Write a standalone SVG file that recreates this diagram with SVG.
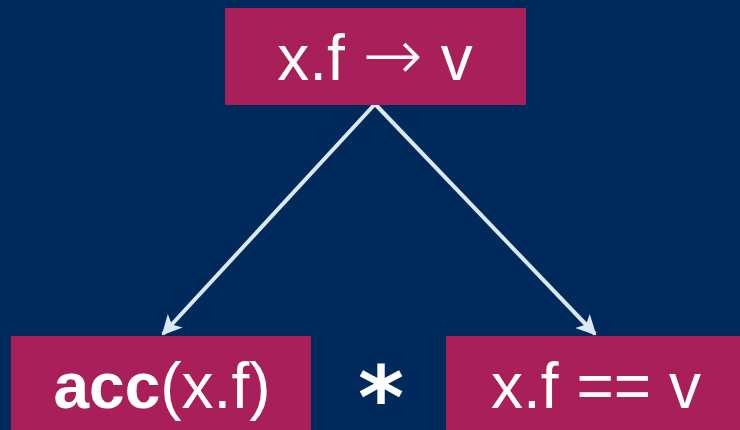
<svg xmlns="http://www.w3.org/2000/svg" width="740" height="430" viewBox="0 0 740 430">
<style>
.box{fill:#a81f59}
.t{font-family:"Liberation Sans",Arial,sans-serif;font-size:64px;fill:#ffffff;text-anchor:middle}
.e{stroke:#dbe8f5;stroke-width:4;fill:none}
</style>
<defs>
<marker id="ah" viewBox="0 0 10 10" refX="9" refY="5" markerWidth="5" markerHeight="5" markerUnits="strokeWidth" orient="auto">
<path d="M0,0 L10,5 L0,10 L2.5,5 z" fill="#dbe8f5"/>
</marker>
</defs>
<rect width="740" height="430" fill="#012a5c"/>
<g id="connectors">
<line class="e" x1="375" y1="104" x2="163" y2="334" marker-end="url(#ah)"/>
<line class="e" x1="375" y1="104" x2="595" y2="334" marker-end="url(#ah)"/>
</g>
<g id="top">
<rect class="box" x="225" y="8" width="301" height="97"/>
<text class="t" x="375" y="80">x.f <tspan font-family="DejaVu Sans" font-size="72" font-weight="300">→</tspan> v</text>
</g>
<g id="acc">
<rect class="box" x="11" y="336" width="300" height="94"/>
<text class="t" x="162" y="408"><tspan font-weight="bold">acc</tspan>(x.f)</text>
</g>
<g id="star">
<text class="t" x="381" y="428" style="font-family:'DejaVu Sans',sans-serif;font-size:88px;font-weight:bold">*</text>
</g>
<g id="eq">
<rect class="box" x="446" y="336" width="294" height="94"/>
<text class="t" x="596" y="408">x.f == v</text>
</g>
</svg>
